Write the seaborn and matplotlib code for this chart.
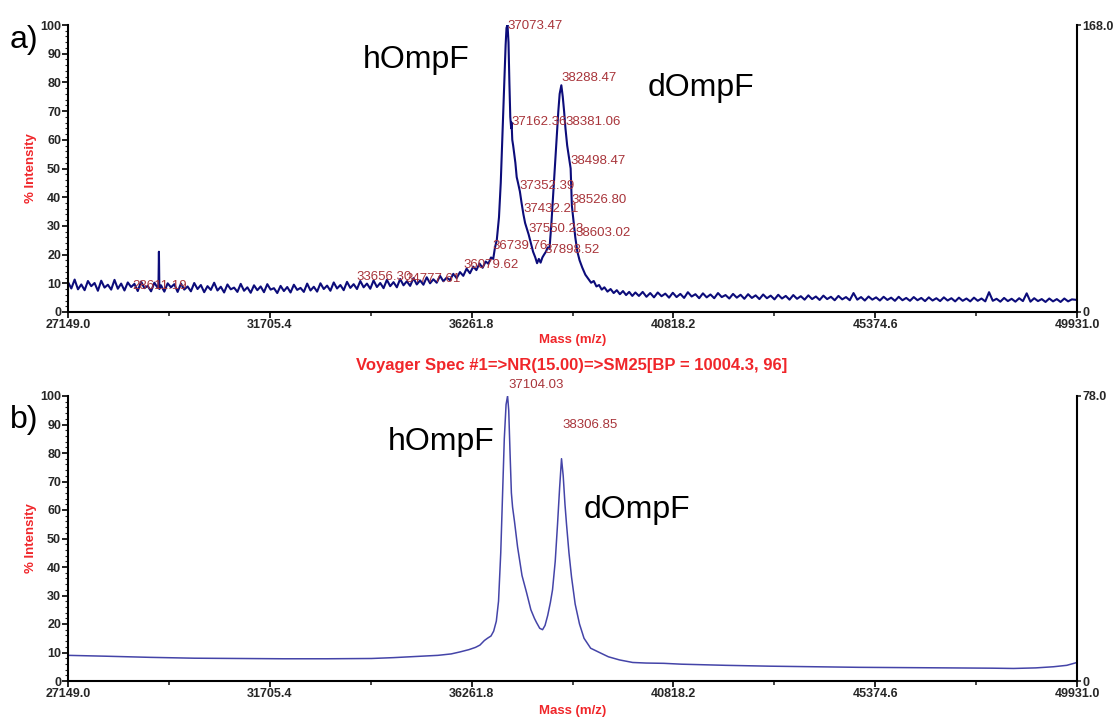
import numpy as np
import pandas as pd
import matplotlib
matplotlib.use("Agg")
import matplotlib.pyplot as plt
import seaborn as sns

# ---------------- data ----------------
top_mass = [
    27149, 27224, 27299, 27374, 27449, 27524, 27599, 27674, 27749, 27824,
    27899, 27974, 28049, 28124, 28199, 28274, 28349, 28424, 28499, 28574,
    28649, 28724, 28799, 28874, 28949, 29024, 29099, 29174, 29192, 29202,
    29212, 29249, 29324, 29399, 29474, 29549, 29624, 29699, 29774, 29849,
    29924, 29999, 30074, 30149, 30224, 30299, 30374, 30449, 30524, 30599,
    30674, 30749, 30824, 30899, 30974, 31049, 31124, 31199, 31274, 31349,
    31424, 31499, 31574, 31649, 31724, 31799, 31874, 31949, 32024, 32099,
    32174, 32249, 32324, 32399, 32474, 32549, 32624, 32699, 32774, 32849,
    32924, 32999, 33074, 33149, 33224, 33299, 33374, 33449, 33524, 33599,
    33674, 33749, 33824, 33899, 33974, 34049, 34124, 34199, 34274, 34349,
    34424, 34499, 34574, 34649, 34724, 34799, 34874, 34949, 35024, 35099,
    35174, 35249, 35324, 35399, 35474, 35549, 35624, 35699, 35774, 35849,
    35924, 35999, 36074, 36149, 36224, 36299, 36370, 36440, 36510, 36580,
    36640, 36700, 36750, 36790, 36830, 36880, 36920, 36960, 37000, 37030,
    37050, 37073, 37095, 37115, 37135, 37155, 37165, 37180, 37200, 37225,
    37250, 37280, 37310, 37352, 37390, 37432, 37470, 37510, 37550, 37600,
    37650, 37700, 37740, 37780, 37820, 37860, 37898, 37940, 37980, 38020,
    38060, 38100, 38140, 38180, 38220, 38250, 38288, 38320, 38350, 38381,
    38420, 38460, 38498, 38512, 38526, 38560, 38603, 38650, 38700, 38760,
    38830, 38900, 38960, 39020, 39080, 39140, 39200, 39260, 39330, 39400,
    39470, 39540, 39610, 39680, 39750, 39820, 39890, 39960, 40040, 40125,
    40210, 40295, 40380, 40465, 40550, 40635, 40720, 40805, 40890, 40975,
    41060, 41145, 41230, 41315, 41400, 41485, 41570, 41655, 41740, 41825,
    41910, 41995, 42080, 42165, 42250, 42335, 42420, 42505, 42590, 42675,
    42760, 42845, 42930, 43015, 43100, 43185, 43270, 43355, 43440, 43525,
    43610, 43695, 43780, 43865, 43950, 44035, 44120, 44205, 44290, 44375,
    44460, 44545, 44630, 44715, 44800, 44885, 44970, 45055, 45140, 45225,
    45310, 45395, 45480, 45565, 45650, 45735, 45820, 45905, 45990, 46075,
    46160, 46245, 46330, 46415, 46500, 46585, 46670, 46755, 46840, 46925,
    47010, 47095, 47180, 47265, 47350, 47435, 47520, 47605, 47690, 47775,
    47860, 47945, 48030, 48115, 48200, 48285, 48370, 48455, 48540, 48625,
    48710, 48795, 48880, 48965, 49050, 49135, 49220, 49305, 49390, 49475,
    49560, 49645, 49730, 49815, 49931,
]
top_intensity = [
    10.4, 8.2, 11.3, 7.9, 9.6, 7.6, 10.8, 9.0, 10.1, 7.4,
    10.9, 8.5, 9.5, 7.8, 11.2, 8.1, 9.9, 7.5, 10.3, 8.7,
    9.8, 7.3, 10.6, 8.3, 9.1, 7.2, 10.2, 8.4, 9.6, 21.0,
    8.0, 9.3, 7.1, 10.0, 8.6, 9.7, 7.0, 9.9, 7.8, 8.9,
    7.2, 10.1, 8.0, 9.4, 6.9, 9.0, 7.7, 10.2, 7.5, 8.8,
    6.8, 9.6, 7.9, 8.5, 7.0, 9.8, 7.4, 8.6, 6.7, 9.3,
    7.6, 8.9, 6.9, 9.7, 7.8, 8.3, 6.6, 9.1, 7.3, 8.7,
    6.8, 9.5, 7.7, 8.4, 7.0, 9.9, 7.5, 8.8, 7.1, 10.0,
    8.0, 9.2, 7.4, 10.3, 8.2, 9.4, 7.6, 10.5, 8.4, 9.7,
    8.0, 10.8, 8.6, 9.9, 8.1, 11.0, 8.7, 10.1, 8.3, 11.2,
    9.0, 10.4, 8.6, 11.5, 9.3, 10.7, 9.1, 11.8, 9.6, 11.0,
    9.5, 12.1, 10.0, 11.4, 10.2, 12.6, 10.7, 12.0, 11.1, 13.3,
    11.8, 13.9, 12.6, 15.1, 13.5, 15.8, 14.6, 16.9, 15.4, 17.6,
    16.8, 19.0, 18.5, 22.5, 25.0, 33.0, 45.0, 62.0, 80.0, 93.0,
    99.0, 100.0, 94.0, 80.0, 68.0, 64.0, 66.0, 60.0, 58.0, 55.0,
    52.0, 47.0, 45.0, 42.0, 38.0, 34.0, 31.0, 29.0, 27.0, 24.0,
    21.0, 19.0, 17.0, 18.5, 17.2, 19.0, 20.0, 21.0, 22.5, 22.0,
    30.0, 40.0, 50.0, 60.0, 70.0, 76.0, 79.0, 75.0, 70.0, 64.0,
    58.0, 54.0, 50.0, 44.0, 37.0, 32.0, 26.0, 21.0, 18.0, 15.5,
    13.0, 11.5, 10.2, 10.8, 8.9, 9.4, 7.8, 8.6, 7.1, 8.0,
    6.6, 7.6, 6.2, 7.3, 5.9, 7.0, 5.6, 6.8, 5.6, 7.0,
    5.3, 6.6, 5.1, 6.8, 5.5, 6.4, 5.0, 6.7, 5.2, 6.3,
    4.9, 6.9, 5.4, 6.2, 4.8, 6.5, 5.1, 6.1, 4.8, 6.6,
    5.2, 5.9, 4.7, 6.3, 5.0, 6.0, 4.6, 6.2, 4.9, 5.8,
    4.5, 6.1, 4.8, 5.7, 4.4, 6.0, 4.7, 5.6, 4.3, 5.9,
    4.6, 5.5, 4.3, 5.8, 4.5, 5.4, 4.2, 5.7, 4.5, 5.3,
    4.1, 5.6, 4.4, 5.2, 4.1, 6.6, 4.3, 5.2, 4.0, 5.4,
    4.3, 5.1, 4.0, 5.3, 4.2, 5.0, 3.9, 5.3, 4.1, 4.9,
    3.9, 5.2, 4.1, 4.9, 3.8, 5.1, 4.0, 4.8, 3.8, 5.1,
    4.0, 4.8, 3.7, 5.0, 3.9, 4.7, 3.7, 5.0, 3.9, 4.7,
    3.7, 6.9, 3.9, 4.6, 3.6, 4.9, 3.8, 4.6, 3.6, 4.8,
    3.8, 6.5, 3.6, 4.8, 3.8, 4.5, 3.5, 4.7, 3.7, 4.5,
    3.5, 4.7, 3.7, 4.4, 4.2,
]

bottom_mass = [
    27149, 28000, 29000, 30000, 31000, 32000, 33000, 34000, 34500, 35000,
    35500, 35800, 36000, 36200, 36350, 36450, 36550, 36620, 36700, 36760,
    36820, 36870, 36920, 36960, 37000, 37040, 37074, 37100, 37130, 37160,
    37187, 37230, 37300, 37400, 37503, 37600, 37680, 37728, 37800, 37864,
    37920, 37980, 38040, 38089, 38150, 38202, 38250, 38292, 38330, 38370,
    38405, 38460, 38518, 38600, 38698, 38800, 38950, 39149, 39350, 39600,
    39900, 40200, 40600, 41000, 42000, 43000, 44000, 45000, 46000, 47000,
    48000, 48500, 49000, 49400, 49700, 49931,
]
bottom_intensity = [
    9.0, 8.7, 8.3, 8.0, 7.9, 7.8, 7.8, 7.9, 8.2, 8.6,
    9.0, 9.5, 10.2, 11.0, 11.8, 12.6, 14.2, 15.0, 15.8, 17.5,
    21.0, 28.0, 45.0, 65.0, 85.0, 97.0, 100.0, 95.0, 80.0, 66.0,
    61.0, 56.0, 47.0, 37.0, 31.0, 25.0, 22.0, 20.5, 18.5, 18.0,
    19.5, 23.0, 27.5, 32.0, 42.0, 55.0, 68.0, 78.0, 72.0, 62.0,
    55.0, 45.0, 36.5, 27.0, 20.0, 15.0, 11.5, 10.0, 8.5, 7.4,
    6.5, 6.3, 6.2, 5.9, 5.5, 5.2, 5.0, 4.8, 4.7, 4.6,
    4.5, 4.4, 4.6, 5.0, 5.5, 6.5,
]

top_peak_labels = ["28611.19", "33656.30", "34777.61", "36079.62", "36739.76",
                   "37073.47", "37162.36", "38381.06", "38288.47", "38498.47",
                   "37352.39", "38526.80", "37432.21", "37550.23", "38603.02",
                   "37898.52"]
top_peak_mass = [28611.19, 33656.30, 34777.61, 36079.62, 36739.76,
                 37073.47, 37162.36, 38381.06, 38288.47, 38498.47,
                 37352.39, 38526.80, 37432.21, 37550.23, 38603.02,
                 37898.52]
top_peak_level = [8.0, 11.0, 10.5, 15.3, 22.0,
                  98.5, 65.0, 65.0, 80.5, 51.6,
                  43.0, 38.0, 35.0, 28.0, 26.5,
                  20.5]

bottom_peak_labels = ["37104.03", "38306.85"]
bottom_peak_mass = [37104.03, 38306.85]
bottom_peak_level = [102.8, 88.8]

xtick_values = [27149.0, 31705.4, 36261.8, 40818.2, 45374.6, 49931.0]
xtick_labels = ["27149.0", "31705.4", "36261.8", "40818.2", "45374.6", "49931.0"]
xminor_values = [29427.2, 33983.6, 38540.0, 43096.4, 47652.8]
ytick_values = [0, 10, 20, 30, 40, 50, 60, 70, 80, 90, 100]

top_right_max = 168.0
bottom_right_max = 78.0

# ---------------- figure ----------------
sns.set_style("white")
plt.rcParams['font.family'] = ['Liberation Sans', 'DejaVu Sans']

W, H = 1114, 717
fig = plt.figure(figsize=(W / 100, H / 100), dpi=100)
fig.patch.set_facecolor("white")

L, R = 68, 1077
ax_top = fig.add_axes([L / W, 1 - 312 / H, (R - L) / W, (312 - 25) / H])
ax_bot = fig.add_axes([L / W, 1 - 681 / H, (R - L) / W, (681 - 396) / H])

df_top = pd.DataFrame({"mass": top_mass, "intensity": top_intensity})
df_bot = pd.DataFrame({"mass": bottom_mass, "intensity": bottom_intensity})

sns.lineplot(data=df_top, x="mass", y="intensity", ax=ax_top, color="#0c0c7a",
             linewidth=1.5, estimator=None, sort=False, legend=False)
sns.lineplot(data=df_bot, x="mass", y="intensity", ax=ax_bot, color="#4444a8",
             linewidth=1.1, estimator=None, sort=False, legend=False)

peak_color = "#a8343a"
label_red = "#f0262a"

for ax, rmax in ((ax_top, top_right_max), (ax_bot, bottom_right_max)):
    ax.set_xlim(xtick_values[0], xtick_values[-1])
    ax.set_ylim(0, 100)
    ax.set_facecolor("white")
    ax.set_xlabel("")
    ax.set_ylabel("")
    for s in ("top", "right"):
        ax.spines[s].set_visible(False)
    for s in ("left", "bottom"):
        ax.spines[s].set_linewidth(1.5)
        ax.spines[s].set_color("black")
    ax.set_xticks(xtick_values)
    ax.set_xticklabels(xtick_labels, fontsize=9, fontweight="bold")
    ax.set_xticks(xminor_values, minor=True)
    ax.set_yticks(ytick_values)
    ax.set_yticklabels([str(v) for v in ytick_values], fontsize=9, fontweight="bold")
    ax.set_yticks(np.arange(0, 101, 2), minor=True)
    ax.tick_params(axis="both", which="major", direction="out", length=4, width=1.2,
                   pad=1, color="black", bottom=True, left=True)
    ax.tick_params(axis="x", which="minor", direction="out", length=3, width=1.2,
                   bottom=True)
    ax.tick_params(axis="y", which="minor", direction="out", length=2, width=0.8,
                   left=True)

    axr = ax.twinx()
    axr.set_ylim(0, rmax)
    axr.set_yticks([0, rmax])
    axr.set_yticklabels(["0", f"{rmax:.1f}"], fontsize=9, fontweight="bold")
    for s in ("top", "left", "bottom"):
        axr.spines[s].set_visible(False)
    axr.spines["right"].set_linewidth(1.5)
    axr.spines["right"].set_color("black")
    axr.tick_params(axis="y", direction="out", length=3, width=1.2, pad=1, right=True)
    axr.grid(False)

for lab, m, v in zip(top_peak_labels, top_peak_mass, top_peak_level):
    ax_top.text(m, v, lab, ha="left", va="baseline", color=peak_color,
                fontsize=9.5, clip_on=False, zorder=5)
for lab, m, v in zip(bottom_peak_labels, bottom_peak_mass, bottom_peak_level):
    ax_bot.text(m, v, lab, ha="left", va="baseline", color=peak_color,
                fontsize=9.5, clip_on=False, zorder=5)

# axis titles
fig.text(573 / W, 1 - 340 / H, "Mass (m/z)", ha="center", va="center",
         color=label_red, fontsize=9.5, fontweight="bold")
fig.text(572 / W, 1 - 365 / H, "Voyager Spec #1=>NR(15.00)=>SM25[BP = 10004.3, 96]",
         ha="center", va="center", color=label_red, fontsize=12, fontweight="bold")
fig.text(573 / W, 1 - 711 / H, "Mass (m/z)", ha="center", va="center",
         color=label_red, fontsize=9.5, fontweight="bold")
fig.text(31 / W, 1 - 168 / H, "% Intensity", ha="center", va="center",
         rotation=90, color=label_red, fontsize=9.5, fontweight="bold")
fig.text(31 / W, 1 - 538 / H, "% Intensity", ha="center", va="center",
         rotation=90, color=label_red, fontsize=9.5, fontweight="bold")

# panel letters and species labels
fig.text(10 / W, 1 - 40 / H, "a)", ha="left", va="center", fontsize=23, color="black")
fig.text(10 / W, 1 - 420 / H, "b)", ha="left", va="center", fontsize=23, color="black")
fig.text(363 / W, 1 - 60 / H, "hOmpF", ha="left", va="center", fontsize=23, color="black")
fig.text(648 / W, 1 - 88 / H, "dOmpF", ha="left", va="center", fontsize=23, color="black")
fig.text(388 / W, 1 - 442 / H, "hOmpF", ha="left", va="center", fontsize=23, color="black")
fig.text(584 / W, 1 - 510 / H, "dOmpF", ha="left", va="center", fontsize=23, color="black")

fig.savefig("out.png", dpi=100, facecolor="white")
